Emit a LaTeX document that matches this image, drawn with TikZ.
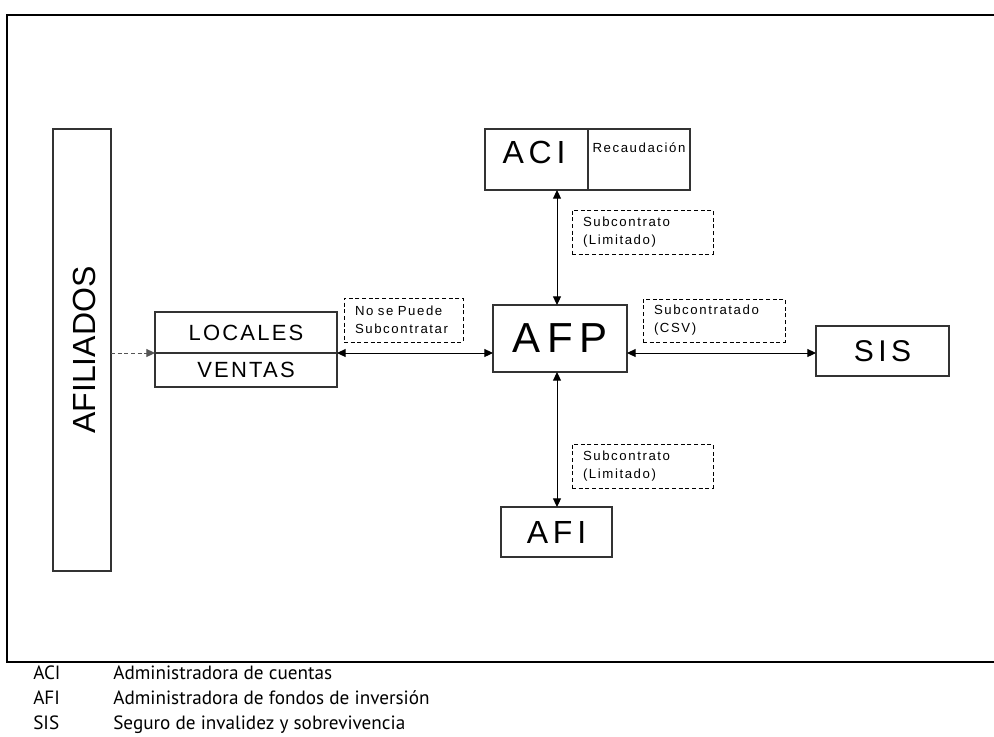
\documentclass[tikz,border=0pt]{standalone}
\usepackage{fontspec}
\setmainfont{Liberation Sans}
\newfontfamily\bigls[LetterSpace=15]{Liberation Sans}
\newfontfamily\midls[LetterSpace=10]{Liberation Sans}
\newfontfamily\smls[LetterSpace=12]{Liberation Sans}
\newfontfamily\legfont{PT Sans}
\usetikzlibrary{arrows.meta}
\definecolor{boxgray}{HTML}{333333}
\definecolor{dashgray}{HTML}{555555}
\begin{document}
\begin{tikzpicture}[x=0.75pt,y=-0.75pt,
  bx/.style 2 args={draw=boxgray, line width=1pt, minimum width=#1*0.75pt, minimum height=#2*0.75pt, inner sep=0pt, outer sep=0pt},
  lbl/.style n args={3}{draw=black, dash pattern=on 3pt off 2pt, line width=0.75pt, minimum width=#1*0.75pt, minimum height=#2*0.75pt, text width=#3, inner xsep=8.25pt, inner ysep=0pt, align=left, font=\smls\fontsize{9.9}{13.5}\selectfont},
  conn/.style={line width=0.75pt, {Triangle[length=6.5pt,width=6pt]}-{Triangle[length=6.5pt,width=6pt]}},
  dconn/.style={line width=0.75pt, draw=dashgray, dash pattern=on 3pt off 2pt, -{Triangle[length=6.5pt,width=6pt]}},
  leg/.style={anchor=base west, inner sep=0pt, font=\legfont\fontsize{14.4}{16}\selectfont}
  ]
\useasboundingbox (0,0) rectangle (994,736);
\fill[white] (0,0) rectangle (994,736);

% outer frame
\draw[line width=1.5pt] (994,15) -- (7,15) -- (7,662) -- (994,662);

% boxes
\node[bx={58}{442}] (afil) at (82,350) {};
\node[rotate=90, font=\fontsize{24}{28}\selectfont, inner sep=0pt] (afiltxt) at (84,350) {AFILIADOS};

\node[bx={182}{41}, font=\midls\fontsize{16.5}{18}\selectfont] (lvtop) at (246,332.5) {LOCALES};
\node[bx={182}{34}, font=\midls\fontsize{16.5}{18}\selectfont] (lvbot) at (246,370) {VENTAS};

\node[bx={103}{61}] (aciL) at (536.5,159.5) {};
\node[bx={102}{61}] (aciR) at (639,159.5) {};
\node[font=\bigls\fontsize{24}{28}\selectfont, inner sep=0pt] (acitxt) at (534,152) {ACI};
\node[font=\smls\fontsize{9.9}{12}\selectfont, inner sep=0pt] (rectxt) at (639,148) {Recaudación};

\node[bx={134}{67}, font=\bigls\fontsize{31.5}{34}\selectfont] (afp) at (560,338.5) {AFP};
\node[bx={133}{50}, font=\bigls\fontsize{22.5}{26}\selectfont] (sis) at (882.5,351) {SIS};
\node[bx={111}{50}, font=\bigls\fontsize{24}{28}\selectfont] (afi) at (556.5,532) {AFI};

% dashed labels
\node[lbl={141}{44}{89.25pt}] (l1) at (642.5,232) {Subcontrato\\(Limitado)};
\node[lbl={119}{44}{72.75pt}] (l2) at (403.5,320) {No se Puede\\Subcontratar};
\node[lbl={142}{43}{90pt}] (l3) at (714,320.5) {Subcontratado\\(CSV)};
\node[lbl={141}{44}{89.25pt}] (l4) at (642.5,466) {Subcontrato\\(Limitado)};

% connectors
\coordinate (hy) at (0,353);
\coordinate (vx) at (557,0);
\draw[dconn] (afil.east |- hy) -- (lvtop.south west);
\draw[conn] (lvtop.south east) -- (afp.west |- hy);
\draw[conn] (afp.east |- hy) -- (sis.west |- hy);
\draw[conn] (vx |- aciL.south) -- (vx |- afp.north);
\draw[conn] (vx |- afp.south) -- (vx |- afi.north);

% legend
\node[leg] (g1a) at (33,679) {ACI};
\node[leg] (g1b) at (113,679) {Administradora de cuentas};
\node[leg] (g2a) at (33,704) {AFI};
\node[leg] (g2b) at (113,704) {Administradora de fondos de inversión};
\node[leg] (g3a) at (33,729) {SIS};
\node[leg] (g3b) at (113,729) {Seguro de invalidez y sobrevivencia};
\end{tikzpicture}
\end{document}
